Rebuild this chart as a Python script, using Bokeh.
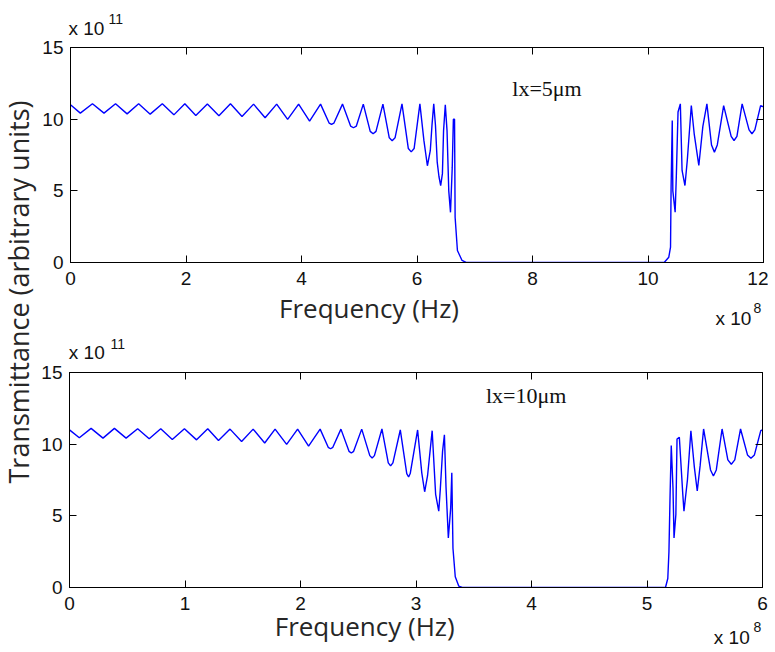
import math
from bokeh.plotting import figure
from bokeh.models import Range1d, LinearAxis, FixedTicker, Label
from bokeh.layouts import row, column
from bokeh.embed import file_html
from bokeh.resources import INLINE

# ---------------- data (frequency in 1e8 Hz, transmittance in 1e11) ----------------
TOP_FREQ = [0.00, 0.17, 0.38, 0.58, 0.78, 0.98, 1.18, 1.38, 1.59, 1.79, 1.98, 2.17, 2.37, 2.57,
            2.77, 2.97, 3.17, 3.37, 3.57, 3.76, 3.95, 4.14, 4.33, 4.48, 4.52, 4.56, 4.71,
            4.85, 4.90, 4.95, 5.07, 5.19, 5.24, 5.29, 5.41, 5.52, 5.57, 5.62, 5.74,
            5.85, 5.90, 5.95, 6.05, 6.12, 6.18, 6.23, 6.26, 6.29, 6.32, 6.35, 6.38, 6.41,
            6.44, 6.46, 6.49, 6.52, 6.55, 6.58, 6.61, 6.63, 6.65, 6.66, 6.70, 6.74, 6.78,
            6.85, 10.28, 10.36, 10.39, 10.40, 10.42, 10.43, 10.47, 10.49, 10.52, 10.56,
            10.59, 10.64, 10.68, 10.75, 10.80, 10.88, 10.95, 11.02, 11.10, 11.15, 11.20,
            11.31, 11.44, 11.49, 11.54, 11.63, 11.75, 11.80, 11.85, 11.95, 12.00]
TOP_TRANS = [11.0, 10.42, 11.08, 10.42, 11.08, 10.37, 11.08, 10.35, 11.08, 10.30, 11.08, 10.26, 11.05, 10.24,
             11.08, 10.19, 11.05, 10.10, 11.05, 9.98, 11.05, 9.86, 11.05, 9.72, 9.63, 9.72, 11.05,
             9.52, 9.40, 9.52, 11.05, 9.15, 8.98, 9.15, 11.05, 8.70, 8.50, 8.70, 11.07,
             7.95, 7.72, 7.95, 11.07, 8.50, 6.75, 7.80, 9.60, 11.07, 9.56, 7.00, 6.00, 5.37,
             6.20, 9.20, 11.00, 9.20, 5.00, 3.50, 6.60, 10.00, 10.00, 3.16, 0.84, 0.49, 0.14,
             0.00, 0.00, 0.37, 1.07, 5.26, 9.90, 5.00, 3.51, 5.96, 10.50, 11.07,
             6.42, 5.37, 7.12, 10.95, 8.98, 6.77, 9.50, 11.07, 8.20, 7.70, 8.20,
             10.95, 8.80, 8.51, 8.80, 11.07, 9.25, 8.98, 9.25, 10.95, 10.85]

BOT_FREQ = [0.00, 0.085, 0.187, 0.29, 0.389, 0.49, 0.59, 0.69, 0.79, 0.89, 0.995, 1.10, 1.197,
            1.29, 1.39, 1.49, 1.59, 1.69, 1.78, 1.88, 1.975, 2.07, 2.17, 2.24, 2.26, 2.28,
            2.35, 2.42, 2.44, 2.46, 2.53, 2.60, 2.62, 2.64, 2.705, 2.76, 2.78, 2.80, 2.864,
            2.92, 2.936, 2.95, 3.014, 3.05, 3.075, 3.10, 3.14, 3.17, 3.197, 3.21, 3.23,
            3.246, 3.26, 3.28, 3.30, 3.31, 3.32, 3.34, 3.37, 3.40, 5.16, 5.18, 5.19, 5.20,
            5.21, 5.225, 5.234, 5.25, 5.26, 5.28, 5.31, 5.32, 5.35, 5.38, 5.41, 5.435, 5.46,
            5.49, 5.55, 5.575, 5.60, 5.65, 5.70, 5.73, 5.76, 5.81, 5.87, 5.90, 5.93, 5.985, 6.00]
BOT_TRANS = [11.0, 10.45, 11.1, 10.42, 11.1, 10.42, 11.08, 10.38, 11.08, 10.33, 11.08, 10.30, 11.08,
             10.25, 11.05, 10.18, 11.05, 10.08, 11.05, 9.98, 11.05, 9.87, 11.05, 9.78, 9.68, 9.78,
             11.05, 9.50, 9.38, 9.50, 11.05, 9.20, 9.03, 9.20, 11.06, 8.70, 8.48, 8.70, 10.99,
             7.95, 7.71, 7.95, 10.99, 8.00, 6.68, 7.80, 10.94, 6.50, 5.32, 6.80, 9.50,
             10.66, 7.00, 3.45, 5.50, 8.00, 2.74, 0.75, 0.10, 0.00, 0.00, 0.63, 2.50, 6.50,
             9.90, 6.96, 3.45, 5.10, 10.36, 10.48, 6.50, 5.32, 7.50, 10.94, 8.40, 6.73, 8.50,
             11.06, 8.20, 7.78, 8.20, 11.06, 8.90, 8.60, 8.90, 11.06, 9.25, 9.02, 9.25, 10.94, 11.0]

TOP_XTICKS = [0, 2, 4, 6, 8, 10, 12]
BOT_XTICKS = [0, 1, 2, 3, 4, 5, 6]
Y_TICKS = [0, 5, 10, 15]

TOP_NOTE = "lx=5μm"
BOT_NOTE = "lx=10μm"
X_LABEL = "Frequency (Hz)"
Y_LABEL = "Transmittance (arbitrary units)"
Y_EXP = ("x 10", "11")
X_EXP = ("x 10", "8")

TICK_FONT = "Liberation Sans"
LABEL_FONT = "Open Sans"
NOTE_FONT = "Liberation Serif"
TXT = "#111111"
LBL = "#262626"
COL_W = 730
# labels are anchored at the middle of their text box: shift from baseline (fraction of size)
K = {TICK_FONT: 0.37, LABEL_FONT: 0.39, NOTE_FONT: 0.34}


def make_plot(xs, ys, xmax, xticks, height, mbl, mbr, mbt, mbb):
    p = figure(width=COL_W, height=height, x_range=Range1d(0, xmax), y_range=Range1d(0, 15),
               output_backend="svg", toolbar_location=None, frame_align=False,
               min_border_left=mbl, min_border_right=mbr, min_border_top=mbt, min_border_bottom=mbb)
    p.grid.visible = False
    p.outline_line_color = "black"
    p.outline_line_width = 1
    p.line(xs, ys, line_color="#0000ff", line_width=1.4)

    p.xaxis.ticker = FixedTicker(ticks=xticks)
    p.yaxis.ticker = FixedTicker(ticks=Y_TICKS)
    for ax in (p.xaxis[0], p.yaxis[0]):
        ax.major_tick_in = 7
        ax.major_tick_out = 0
        ax.minor_tick_line_color = None
        ax.axis_line_color = "black"
        ax.major_tick_line_color = "black"
        ax.major_label_text_font = TICK_FONT
        ax.major_label_text_font_size = "19px"
        ax.major_label_text_color = TXT
    p.xaxis.major_label_standoff = 9
    p.yaxis.major_label_standoff = 7

    top = LinearAxis(ticker=FixedTicker(ticks=xticks), major_tick_in=7, major_tick_out=0,
                     minor_tick_line_color=None, major_label_text_font_size="0px",
                     major_label_text_color=None, major_label_standoff=0)
    right = LinearAxis(ticker=FixedTicker(ticks=Y_TICKS), major_tick_in=7, major_tick_out=0,
                       minor_tick_line_color=None, major_label_text_font_size="0px",
                       major_label_text_color=None, major_label_standoff=0)
    p.add_layout(top, "above")
    p.add_layout(right, "right")
    return p


def text_strip(width, height):
    """Blank figure whose frame fills the canvas; coordinates are pixels (y up)."""
    f = figure(width=width, height=height, x_range=Range1d(0, width), y_range=Range1d(0, height),
               output_backend="svg", toolbar_location=None, x_axis_type=None, y_axis_type=None,
               min_border=0, frame_align=False)
    f.grid.visible = False
    f.outline_line_color = None
    return f


def put(f, x, y_base, text, font, size, color, align="left"):
    """y_base: baseline in strip pixels (y up)."""
    f.add_layout(Label(x=x, y=y_base + K[font] * size, text=text, text_font=font,
                       text_font_size=f"{size}px", text_color=color, text_align=align,
                       text_baseline="alphabetic"))


def add_exp(f, x, y, sx, sy, pair):
    put(f, x, y, pair[0], TICK_FONT, 19, TXT)
    put(f, sx, sy, pair[1], TICK_FONT, 14, TXT)


# ---------- column pieces (page y: header 0-39, top 39-292, middle 292-362, bottom 362-617, footer 617-648)
header = text_strip(COL_W, 39)
add_exp(header, 30, 4, 70, 15.7, Y_EXP)

top = make_plot(TOP_FREQ, TOP_TRANS, 12, TOP_XTICKS, 253, 32, 5, 8, 30)
top.add_layout(Label(x=7.65, y=12.15, text=TOP_NOTE, text_font=NOTE_FONT, text_font_size="22px",
                     text_color=TXT, text_align="left", text_baseline="alphabetic"))

middle = text_strip(COL_W, 70)
put(middle, 330.5, 44, X_LABEL, LABEL_FONT, 26, LBL, align="center")
add_exp(middle, 677, 37, 715, 49, X_EXP)
add_exp(middle, 30.3, 2.5, 72, 13.7, Y_EXP)

bot = make_plot(BOT_FREQ, BOT_TRANS, 6, BOT_XTICKS, 255, 30, 6, 10, 30)
bot.add_layout(Label(x=3.605, y=13.37, text=BOT_NOTE, text_font=NOTE_FONT, text_font_size="22px",
                     text_color=TXT, text_align="left", text_baseline="alphabetic"))

footer = text_strip(COL_W, 31)
put(footer, 326.2, 12, X_LABEL, LABEL_FONT, 26, LBL, align="center")
add_exp(footer, 675.3, 4, 715, 16, X_EXP)

# ---------- shared y label strip (rotated: baseline shift goes along x) ----------
lab = text_strip(38, 648)
lab.add_layout(Label(x=28.5 - K[LABEL_FONT] * 27, y=356.5, text=Y_LABEL, angle=math.pi / 2,
                     text_font=LABEL_FONT, text_font_size="27px", text_color=LBL,
                     text_align="center", text_baseline="alphabetic"))

layout = row(lab, column(header, top, middle, bot, footer))
open("out.html", "w").write(file_html(layout, INLINE))
